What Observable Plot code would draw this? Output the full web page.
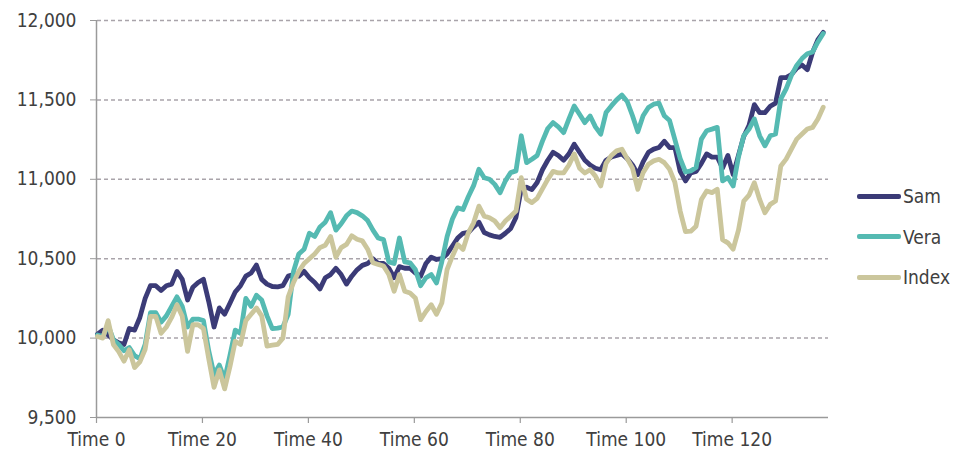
<!DOCTYPE html>
<html>
<head>
<meta charset="utf-8">
<script src="https://cdn.jsdelivr.net/npm/d3@7"></script>
<script src="https://cdn.jsdelivr.net/npm/@observablehq/plot@0.6"></script>
<style>
  html, body { margin: 0; padding: 0; background: #fff; }
  #wrap { display: flex; flex-direction: row; width: 956px; height: 455px; }
  #chart { width: 846px; }
  #legend { width: 110px; padding-top: 176px; font-family: "Liberation Sans Narrow", "DejaVu Sans Condensed", "Liberation Sans", sans-serif; font-size: 19px; color: #404040; }
  .item { display: flex; align-items: center; height: 40.5px; }
  .swatch { width: 44px; height: 5px; margin-left: 11px; margin-right: 2px; border-radius: 2px; }
</style>
</head>
<body>
<div id="wrap"><div id="chart"></div><div id="legend"></div></div>
<script>
const seriesNames = ["Sam", "Vera", "Index"];
const seriesColors = ["#3b3b77", "#55bab2", "#cbc69c"];

const sam = [10025,10050,10020,9990,9970,9960,10060,10050,10130,10250,
10330,10330,10300,10330,10340,10420,10370,10240,10320,10350,
10370,10230,10070,10190,10150,10220,10290,10330,10390,10410,
10460,10370,10340,10325,10323,10330,10390,10400,10390,10420,
10380,10350,10310,10380,10400,10440,10400,10340,10390,10430,
10458,10470,10500,10470,10470,10440,10380,10450,10440,10440,
10410,10390,10470,10510,10495,10500,10530,10580,10630,10660,
10665,10700,10730,10665,10650,10640,10635,10660,10690,10760,
10940,10950,10935,10980,11060,11120,11170,11150,11120,11160,
11221,11170,11120,11090,11070,11060,11120,11140,11150,11160,
11130,11090,11030,11110,11170,11190,11200,11240,11200,11200,
11050,10990,11040,11050,11100,11160,11140,11140,11070,11150,
11030,11150,11270,11340,11470,11420,11420,11460,11480,11640,
11640,11660,11700,11720,11690,11800,11880,11925];

const vera = [10020,10010,10080,9990,9960,9920,9940,9890,9870,9960,
10160,10160,10100,10140,10200,10260,10200,10070,10120,10120,
10110,9920,9770,9830,9740,9890,10050,10030,10250,10200,
10270,10240,10140,10060,10063,10070,10150,10420,10530,10560,
10660,10640,10700,10730,10790,10680,10720,10770,10800,10790,
10770,10740,10680,10630,10620,10480,10470,10630,10480,10474,
10432,10330,10380,10400,10347,10480,10640,10750,10820,10810,
10890,10960,11063,11010,11000,10968,10916,10990,11042,11053,
11274,11105,11126,11150,11240,11320,11357,11330,11294,11380,
11462,11410,11357,11399,11330,11284,11420,11462,11500,11530,
11490,11400,11300,11400,11452,11473,11479,11400,11370,11250,
11130,11046,11053,11074,11253,11306,11316,11327,10990,11011,
10958,11140,11274,11316,11380,11274,11211,11274,11285,11506,
11570,11654,11717,11760,11791,11802,11865,11918];

const indexSeries = [10010,10000,10110,9960,9915,9855,9926,9815,9850,9930,
10137,10137,10030,10070,10130,10210,10137,9916,10084,10084,
10060,9870,9690,9800,9680,9820,9980,9960,10110,10150,
10190,10140,9950,9955,9960,10000,10260,10350,10420,10470,
10500,10530,10570,10585,10640,10510,10570,10590,10644,10622,
10612,10560,10475,10464,10454,10400,10295,10400,10295,10284,
10253,10116,10168,10210,10150,10221,10432,10516,10589,10558,
10663,10726,10831,10768,10758,10737,10695,10737,10768,10800,
11010,10874,10853,10880,10940,11000,11050,11040,11040,11090,
11160,11070,11040,11060,11020,10958,11100,11150,11179,11189,
11130,11070,10937,11042,11095,11116,11126,11105,11063,10980,
10800,10670,10673,10705,10873,10926,10916,10937,10620,10600,
10560,10680,10863,10900,10979,10873,10789,10842,10863,11084,
11127,11190,11253,11285,11317,11327,11380,11454];

const xTickValues = [0, 20, 40, 60, 80, 100, 120];
const xTickLabels = ["Time 0", "Time 20", "Time 40", "Time 60", "Time 80", "Time 100", "Time 120"];
const yTickValues = [9500, 10000, 10500, 11000, 11500, 12000];
const gridValues = [10000, 10500, 11000, 11500, 12000];

const allSeries = [sam, vera, indexSeries];
const rows = allSeries.flatMap((arr, s) => arr.map((v, i) => ({t: i, value: v, series: seriesNames[s]})));

const font = '"Liberation Sans Narrow", "DejaVu Sans Condensed", "Liberation Sans", sans-serif';

const chart = Plot.plot({
  width: 846,
  height: 455,
  marginLeft: 97,
  marginRight: 18,
  marginTop: 20,
  marginBottom: 38,
  style: {fontFamily: font, fontSize: "19px", color: "#404040", background: "#fff", overflow: "visible"},
  x: {domain: [0, 138]},
  y: {domain: [9500, 12000]},
  color: {domain: seriesNames, range: seriesColors},
  marks: [
    Plot.ruleY(gridValues, {stroke: "#a9a4aa", strokeWidth: 1.5, strokeDasharray: "4,3"}),
    Plot.ruleX([0], {stroke: "#9a9a9a", strokeWidth: 1.5, dx: -1}),
    Plot.ruleY([9500], {stroke: "#9a9a9a", strokeWidth: 1.5}),
    Plot.axisX({ticks: xTickValues, tickFormat: () => "", tickSize: 6, stroke: "#9a9a9a", strokeWidth: 1.2, label: null, dx: -1}),
    Plot.axisX({ticks: xTickValues, tickFormat: (d) => xTickLabels[xTickValues.indexOf(d)], tickSize: 0, tickPadding: 15, fill: "#404040", label: null, dx: -1}),
    Plot.axisY({ticks: yTickValues, tickFormat: d3.format(","), tickSize: 6, tickPadding: 14, stroke: "#9a9a9a", fill: "#404040", label: null, dx: -1}),
    Plot.line(rows, {x: "t", y: "value", z: "series", stroke: "series", strokeWidth: 4.8, strokeLinejoin: "round", strokeLinecap: "round"})
  ]
});
document.getElementById("chart").appendChild(chart);

const legend = document.getElementById("legend");
seriesNames.forEach((name, i) => {
  const item = document.createElement("div");
  item.className = "item";
  const sw = document.createElement("span");
  sw.className = "swatch";
  sw.style.background = seriesColors[i];
  const label = document.createElement("span");
  label.textContent = name;
  item.appendChild(sw);
  item.appendChild(label);
  legend.appendChild(item);
});
</script>
</body>
</html>
